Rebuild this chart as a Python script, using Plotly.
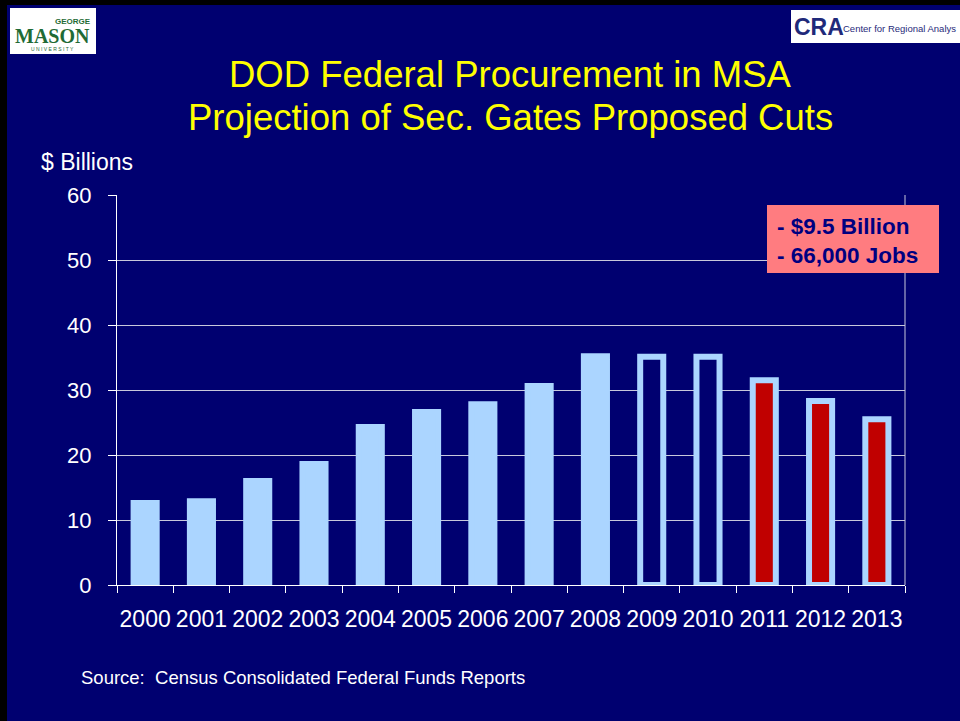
import plotly.graph_objects as go

# ---- data ----
years = ["2000", "2001", "2002", "2003", "2004", "2005", "2006",
         "2007", "2008", "2009", "2010", "2011", "2012", "2013"]
procurement_bn = [12.6, 12.9, 16.0, 18.6, 24.3, 26.6, 27.8,
                  30.6, 35.2, 35.1, 35.1, 31.5, 28.3, 25.5]
bar_status = ["actual", "actual", "actual", "actual", "actual", "actual", "actual",
              "actual", "actual", "projection", "projection", "cut", "cut", "cut"]
y_ticks = [0, 10, 20, 30, 40, 50, 60]

title_lines = ["DOD Federal Procurement in MSA", "Projection of Sec. Gates Proposed Cuts"]
y_title = "$ Billions"
callout_lines = ["- $9.5 Billion", "- 66,000 Jobs"]
source_text = "Source:\u00a0 Census Consolidated Federal Funds Reports"

# ---- style ----
W, H = 960, 721
L, R, T, B = 117, 905, 195, 585
NAVY = "#000070"
LIGHT = "#ABD5FF"
RED = "#C00000"
FONT = "Arial, Liberation Sans, sans-serif"

fill_for = {"actual": LIGHT, "projection": NAVY, "cut": RED}
fills = [fill_for[s] for s in bar_status]


def px(x):
    return (x - L) / (R - L)


def py(y):
    return (B - y) / (B - T)


fig = go.Figure()
fig.add_trace(go.Bar(
    x=years, y=procurement_bn, width=0.41,
    marker=dict(color=fills, line=dict(color=LIGHT, width=6)),
    hoverinfo="x+y", showlegend=False,
))

shapes = [
    # black frame edges (left / top)
    dict(type="rect", xref="paper", yref="paper", x0=px(0), x1=px(7), y0=py(H), y1=py(0),
         fillcolor="black", line=dict(width=0), layer="above"),
    dict(type="rect", xref="paper", yref="paper", x0=px(0), x1=px(W), y0=py(5), y1=py(0),
         fillcolor="black", line=dict(width=0), layer="above"),
    # right border of plot area
    dict(type="line", xref="paper", yref="paper", x0=1, x1=1, y0=0, y1=1,
         line=dict(color="#C8C8DC", width=1), layer="below"),
    # logos backgrounds
    dict(type="rect", xref="paper", yref="paper", x0=px(10), x1=px(96), y0=py(54), y1=py(8),
         fillcolor="white", line=dict(width=0)),
    dict(type="rect", xref="paper", yref="paper", x0=px(791), x1=px(W), y0=py(43), y1=py(10),
         fillcolor="white", line=dict(width=0)),
    # callout box
    dict(type="rect", xref="paper", yref="paper", x0=px(767), x1=px(939), y0=py(273), y1=py(205),
         fillcolor="#FF7C80", line=dict(width=0), layer="above"),
]

annotations = [
    dict(text=title_lines[0], x=px(510), y=py(74), xref="paper", yref="paper",
         xanchor="center", yanchor="middle", showarrow=False,
         font=dict(family=FONT, size=36.5, color="#FFFF00")),
    dict(text=title_lines[1], x=px(510), y=py(117), xref="paper", yref="paper",
         xanchor="center", yanchor="middle", showarrow=False,
         font=dict(family=FONT, size=36.5, color="#FFFF00")),
    dict(text=y_title, x=px(39), y=py(162), xref="paper", yref="paper",
         xanchor="left", yanchor="middle", showarrow=False,
         font=dict(family=FONT, size=23, color="white")),
    dict(text="<b>" + callout_lines[0] + "</b>", x=px(775), y=py(226), xref="paper", yref="paper",
         xanchor="left", yanchor="middle", showarrow=False,
         font=dict(family=FONT, size=22.5, color="#000080")),
    dict(text="<b>" + callout_lines[1] + "</b>", x=px(775), y=py(255), xref="paper", yref="paper",
         xanchor="left", yanchor="middle", showarrow=False,
         font=dict(family=FONT, size=22.5, color="#000080")),
    dict(text=source_text, x=px(79), y=py(677), xref="paper", yref="paper",
         xanchor="left", yanchor="middle", showarrow=False,
         font=dict(family=FONT, size=18.5, color="white")),
    # GMU logo text
    dict(text="<b>GEORGE</b>", x=px(93), y=py(21), xref="paper", yref="paper",
         xanchor="right", yanchor="middle", showarrow=False,
         font=dict(family=FONT, size=8, color="#1F6B35")),
    dict(text="<b>MASON</b>", x=px(52), y=py(36), xref="paper", yref="paper",
         xanchor="center", yanchor="middle", showarrow=False,
         font=dict(family="Liberation Serif, DejaVu Serif, serif", size=20, color="#1F6B35")),
    dict(text="U N I V E R S I T Y", x=px(52), y=py(49), xref="paper", yref="paper",
         xanchor="center", yanchor="middle", showarrow=False,
         font=dict(family=FONT, size=5, color="#1F6B35")),
    # CRA logo text
    dict(text="<b>CRA</b>", x=px(792), y=py(27), xref="paper", yref="paper",
         xanchor="left", yanchor="middle", showarrow=False,
         font=dict(family=FONT, size=23, color="#1F2A7A")),
    dict(text="Center for Regional Analys", x=px(841), y=py(29), xref="paper", yref="paper",
         xanchor="left", yanchor="middle", showarrow=False,
         font=dict(family=FONT, size=9.5, color="#1F2A7A")),
]

fig.update_layout(
    width=W, height=H,
    margin=dict(l=L, r=W - R, t=T, b=H - B, pad=0),
    paper_bgcolor=NAVY, plot_bgcolor=NAVY,
    font=dict(family=FONT, color="white"),
    bargap=0.59,
    shapes=shapes, annotations=annotations,
    xaxis=dict(
        type="category", showline=True, linecolor="white", linewidth=1,
        ticks="outside", tickson="boundaries", ticklen=7, tickcolor="white",
        tickfont=dict(family=FONT, size=23, color="white"), tickangle=0,
        ticklabelstandoff=13, showgrid=False, fixedrange=True,
    ),
    yaxis=dict(
        range=[0, 60], tickvals=y_ticks, showline=True, linecolor="white", linewidth=1,
        ticks="outside", ticklen=8, tickcolor="white",
        tickfont=dict(family=FONT, size=22, color="white"),
        ticklabelstandoff=12, showgrid=True, gridcolor="#C8C8DC", gridwidth=1,
        zeroline=False, fixedrange=True,
    ),
)

fig.write_html("out.html", config={"displayModeBar": False},
               post_script="document.body.style.margin='0';document.body.style.padding='0';")
